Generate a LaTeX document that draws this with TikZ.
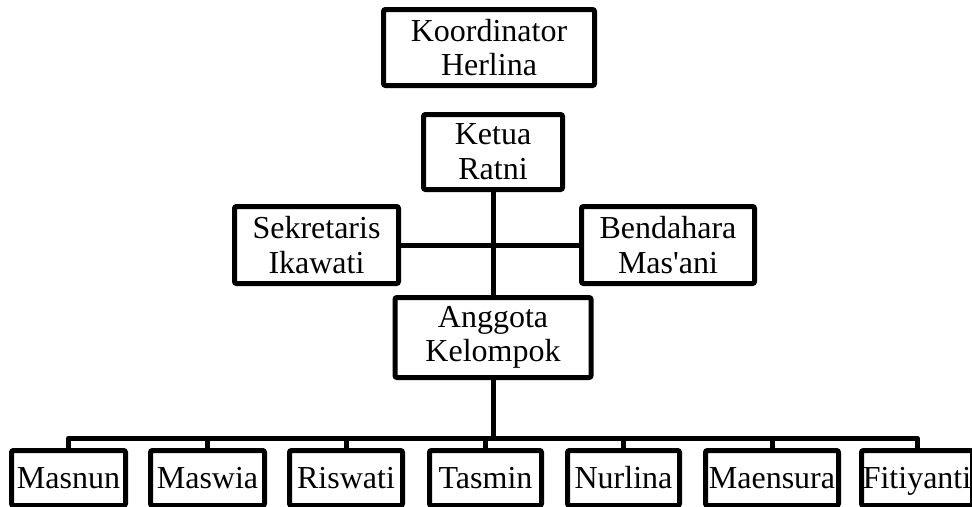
\documentclass[tikz,border=0pt]{standalone}
\usepackage{fontspec}
\setmainfont{Liberation Serif}
\newcommand{\memtext}[1]{\makebox[0pt]{\vphantom{M}\smash{#1}}}
\begin{document}
\begin{tikzpicture}[x=0.75pt,y=-0.75pt,
  box/.style={draw=black, line width=3.75pt, rounded corners=1.5pt, fill=white,
    inner sep=0pt, align=center, font=\fontsize{24}{26}\selectfont},
  conn/.style={draw=black, line width=3.75pt, line join=round}]
\clip (0,0) rectangle (972,507);
\fill[white] (0,0) rectangle (972,507);
% upper boxes
\node[box, minimum width=211*0.75pt, minimum height=76*0.75pt] (koord) at (489,47.5) {Koordinator\\Herlina};
\node[box, minimum width=139*0.75pt, minimum height=75*0.75pt] (ketua) at (493,152) {Ketua\\Ratni};
\node[box, minimum width=164*0.75pt, minimum height=77*0.75pt] (sek) at (316.5,245) {Sekretaris\\Ikawati};
\node[box, minimum width=173*0.75pt, minimum height=77*0.75pt] (bend) at (668,245) {Bendahara\\Mas\textquotesingle ani};
\node[box, minimum width=196*0.75pt, minimum height=80*0.75pt] (angg) at (493,337.5) {Anggota\\Kelompok};
% members
\node[box, minimum width=114*0.75pt, minimum height=55*0.75pt] (m1) at (68.5,478) {\memtext{Masnun}};
\node[box, minimum width=114*0.75pt, minimum height=55*0.75pt] (m2) at (207.5,478) {\memtext{Maswia}};
\node[box, minimum width=113*0.75pt, minimum height=55*0.75pt] (m3) at (346,478) {\memtext{Riswati}};
\node[box, minimum width=112*0.75pt, minimum height=55*0.75pt] (m4) at (485.5,478) {\memtext{Tasmin}};
\node[box, minimum width=112*0.75pt, minimum height=55*0.75pt] (m5) at (623.5,478) {\memtext{Nurlina}};
\node[box, minimum width=133*0.75pt, minimum height=55*0.75pt] (m6) at (772,478) {\memtext{Maensura}};
\node[box, minimum width=111*0.75pt, minimum height=55*0.75pt] (m7) at (917,478) {\memtext{Fitiyanti}};
% connectors
\draw[conn] (ketua.south) -- (angg.north);
\draw[conn] (sek.east) -- (bend.west);
\coordinate (bus) at (493,438);
\draw[conn] (angg.south) -- (bus);
\draw[conn] (m1.north) |- (bus) -| (m7.north);
\foreach \m in {m2,m3,m4,m5,m6}{
  \draw[conn] (\m.north) -- (\m.north |- bus);
}
\end{tikzpicture}
\end{document}
